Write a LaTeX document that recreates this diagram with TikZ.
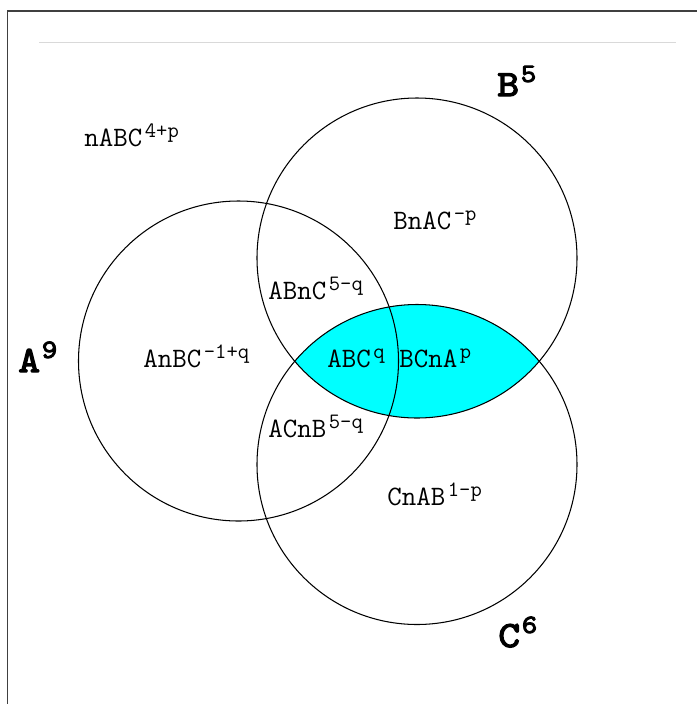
\documentclass[tikz,border=0pt]{standalone}
\usepackage{fontspec}
\newfontfamily\setfont{lmmono10-regular.otf}[FakeBold=3.5,FakeStretch=1.12]
\usepackage{xcolor}
\usepackage{tikz}
\usetikzlibrary{positioning}

\definecolor{framegray}{HTML}{404040}
\definecolor{rulegray}{HTML}{D9D9D9}
\definecolor{lenscyan}{HTML}{00FFFF}
\newcommand{\sx}[1]{\kern1.5pt\raisebox{4.6pt}{\fontsize{12.5}{13}\selectfont#1}}
\newcommand{\sxbig}[1]{\kern1pt\raisebox{8pt}{\fontsize{15}{16}\selectfont#1}}

\tikzset{
  region/.style={font=\ttfamily\fontsize{16}{18}\selectfont, inner sep=0pt, anchor=base west},
  setname/.style={font=\setfont\fontsize{21}{23}\selectfont, inner sep=0pt, anchor=base west},
  setcircle/.style={draw=black, line width=0.6pt},
}

\begin{document}
\begin{tikzpicture}[x=0.02cm, y=-0.02cm]
    \useasboundingbox (0,0) rectangle (697,704);
    % frame and rule
    \draw[framegray, line width=0.9pt] (7.5,704) -- (7.5,11) -- (697,11);
    \draw[rulegray, line width=0.8pt] (39,42.5) -- (676,42.5);
    % circle centres
    \coordinate (A) at (238.5,361);
    \coordinate (B) at (417,258);
    \coordinate (C) at (417,464.5);
    % shaded lens B and C
    \begin{scope}
      \clip (B) circle (160);
      \fill[lenscyan] (C) circle (160);
    \end{scope}
    \foreach \c in {A,B,C} {
      \draw[setcircle] (\c) circle (160);
    }
    % region labels
    \node[region] (nabc) at (84,146) {nABC\sx{4+p}};
    \node[region] (bnac) at (393,229) {BnAC\sx{-p}};
    \node[region] (abnc) at (268,299) {ABnC\sx{5-q}};
    \node[region] (anbc) at (143,367) {AnBC\sx{-1+q}};
    \node[region] (abc) at (327,367) {ABC\sx{q}};
    \node[region] (bcna) at (399,367) {BCnA\sx{p}};
    \node[region] (acnb) at (268,437) {ACnB\sx{5-q}};
    \node[region] (cnab) at (387,505) {CnAB\sx{1-p}};
    % set names
    \node[setname] (seta) at (18,372) {A\sxbig{9}};
    \node[setname] (setb) at (497,96) {B\sxbig{5}};
    \node[setname] (setc) at (498,647) {C\sxbig{6}};
\end{tikzpicture}
\end{document}
